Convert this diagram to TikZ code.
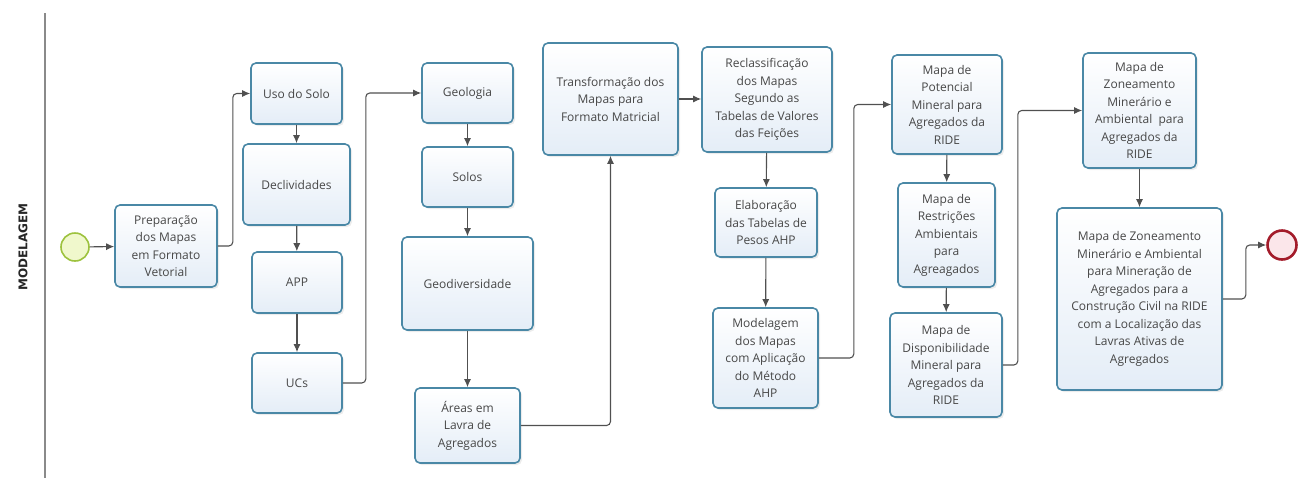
\documentclass[tikz,border=0pt]{standalone}
\usepackage{fontspec}
\setmainfont{Open Sans}
\newfontfamily\lanefont{DejaVu Sans}
\usetikzlibrary{arrows.meta,shadows,calc}
\definecolor{bordc}{HTML}{4A88A6}
\definecolor{boxbot}{HTML}{E4EDF7}
\definecolor{txtc}{HTML}{474747}
\definecolor{linec}{HTML}{505050}
\definecolor{startfill}{HTML}{F0F8CC}
\definecolor{startbord}{HTML}{9DC23E}
\definecolor{endfill}{HTML}{FBE6EA}
\definecolor{endbord}{HTML}{A31B2A}
\definecolor{lanec}{HTML}{8A8A8A}
\tikzset{
  task/.style={draw=bordc, line width=1.6pt, rounded corners=5pt,
    top color=white, bottom color=boxbot, align=center, text=txtc,
    font=\fontsize{12}{17.5}\selectfont, inner sep=2pt,
    drop shadow={opacity=0.15, shadow xshift=2pt, shadow yshift=-2pt}},
  flow/.style={draw=linec, line width=1.1pt, rounded corners=4pt,
    -{Latex[length=8pt,width=7pt]}},
}
\begin{document}
\begin{tikzpicture}[x=1pt,y=-1pt]
\useasboundingbox (0,0) rectangle (1301,483);
% lane
\draw[lanec, line width=1.4pt] (45,13) -- (45,478);
\node[rotate=90, font=\lanefont\bfseries\fontsize{12}{14}\selectfont, text=black!85] (lane) at (23,247) {MODELAGEM};
% events
\node[circle, draw=startbord, line width=1.6pt, fill=startfill, minimum size=28pt, inner sep=0pt] (start) at (75,247) {};
\node[circle, draw=endbord, line width=2.6pt, fill=endfill, minimum size=29pt, inner sep=0pt] (end) at (1282,245) {};
% tasks
\node[task, minimum width=102pt, minimum height=82pt] (prep) at (166,246) {Preparação\\dos Mapas\\em Formato\\Vetorial};
\node[task, minimum width=91pt, minimum height=61pt] (uso) at (296.5,93.5) {Uso do Solo};
\node[task, minimum width=107pt, minimum height=81pt] (decl) at (296.5,184.5) {Declividades};
\node[task, minimum width=90pt, minimum height=61pt] (app) at (297,282.5) {APP};
\node[task, minimum width=90pt, minimum height=60pt] (ucs) at (297,383) {UCs};
\node[task, minimum width=91pt, minimum height=60pt] (geol) at (467.5,93) {Geologia};
\node[task, minimum width=91pt, minimum height=60pt] (solos) at (467.5,177) {Solos};
\node[task, minimum width=131pt, minimum height=93pt] (geod) at (467.5,283.5) {Geodiversidade};
\node[task, minimum width=105pt, minimum height=75pt] (areas) at (467.5,425.5) {Áreas em\\Lavra de\\Agregados};
\node[task, minimum width=135pt, minimum height=112pt] (transf) at (610.5,99) {Transformação dos\\Mapas para\\Formato Matricial};
\node[task, minimum width=130pt, minimum height=105pt] (reclass) at (767,99.5) {Reclassificação\\dos Mapas\\Segundo as\\Tabelas de Valores\\das Feições};
\node[task, minimum width=102pt, minimum height=69pt] (elab) at (766,222.5) {Elaboração\\das Tabelas de\\Pesos AHP};
\node[task, minimum width=105pt, minimum height=100pt] (model) at (765.5,358) {Modelagem\\dos Mapas\\com Aplicação\\do Método\\AHP};
\node[task, minimum width=110pt, minimum height=99pt] (pot) at (947,104.5) {Mapa de\\Potencial\\Mineral para\\Agregados da\\RIDE};
\node[task, minimum width=97pt, minimum height=104pt] (rest) at (946.5,235) {Mapa de\\Restrições\\Ambientais\\para\\Agreagados};
\node[task, minimum width=112pt, minimum height=104pt] (disp) at (946,365) {Mapa de\\Disponibilidade\\Mineral para\\Agregados da\\RIDE};
\node[task, minimum width=113pt, minimum height=115pt] (zon) at (1139.5,110.5) {Mapa de\\Zoneamento\\Minerário e\\Ambiental~ para\\Agregados da\\RIDE};
\node[task, minimum width=165pt, minimum height=182pt] (big) at (1139.5,299) {Mapa de Zoneamento\\Minerário e Ambiental\\para Mineração de\\Agregados para a\\Construção Civil na RIDE\\com a Localização das\\Lavras Ativas de\\Agregados};
% connectors
\draw[flow] (start) -- (prep);
\draw[flow] (prep.east) -- ++(15,0) |- (uso.west);
\draw[flow] (uso) -- (decl);
\draw[flow] (decl) -- (app);
\draw[flow] (app) -- (ucs);
\draw[flow] (ucs.east) -- ++(23,0) |- (geol.west);
\draw[flow] (geol) -- (solos);
\draw[flow] (solos) -- (geod);
\draw[flow] (geod) -- (areas);
\draw[flow] (areas.east) -| (transf.south);
\draw[flow] (transf.east) -- (transf.east -| reclass.west);
\draw[flow] (reclass) -- (elab);
\draw[flow] (elab) -- (model);
\draw[flow] (model.east) -- ++(35,0) |- (pot.west);
\draw[flow] (pot) -- (rest);
\draw[flow] (rest) -- (disp);
\draw[flow] (disp.east) -- ++(15,0) |- (zon.west);
\draw[flow] (zon) -- (big);
\draw[flow] (big.east) -- ++(23,0) |- (end.west);
\end{tikzpicture}
\end{document}
